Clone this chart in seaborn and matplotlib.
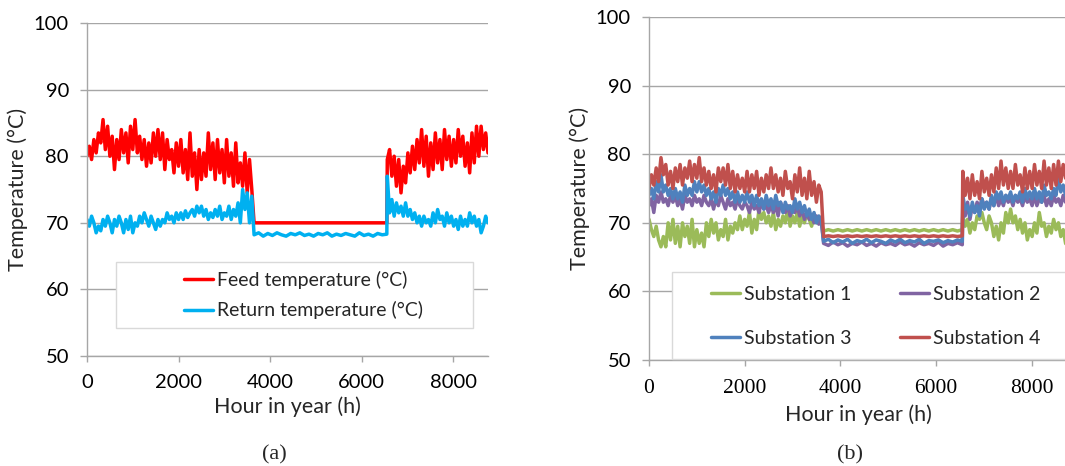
import numpy as np
import pandas as pd
import matplotlib
matplotlib.use("Agg")
import matplotlib.pyplot as plt
from matplotlib.patches import Rectangle
import seaborn as sns

# hour grids: heating season part 1, summer (constant set point), heating season part 2
hours_a = np.arange(0, 3601, 50)
hours_flat = np.arange(3650, 6551, 100)
hours_b = np.arange(6560, 8761, 50)

# ---- panel (a): network feed / return temperature ----
feed_1 = [80, 81.5, 79.5, 82.5, 80.5, 83.5, 82, 85.5, 81, 84.5, 80,
          83, 78, 82.5, 79.5, 84, 80.5, 83.5, 79, 84.5, 81,
          85.5, 80.5, 83, 79.5, 82.5, 78.5, 82, 79, 83.5, 80,
          84, 79.5, 83.5, 78, 82.5, 79.5, 81, 77.5, 82, 78.5,
          82.5, 77.5, 81, 76.5, 83.5, 77, 80.5, 75, 81, 76.5,
          80.5, 77, 83.5, 78, 82, 76.5, 82.5, 77.5, 81, 76,
          82.5, 77, 80.5, 75.5, 82, 76, 79, 75.5, 80.5, 74.5, 79.5, 75]
feed_flat = [70] * 30
feed_2 = [79.5, 81, 77, 80, 75.5, 79.5, 74.5, 78.5, 76, 80.5,
          77.5, 81.5, 78, 82.5, 79, 84, 78.5, 83, 77, 82,
          78, 83.5, 79, 82.5, 78, 84, 79.5, 83, 78.5, 82.5,
          79, 84, 80, 83, 78.5, 82, 77.5, 83.5, 79, 84.5,
          80, 84.5, 81, 83.5, 80.5]

return_1 = [70.5, 69.5, 71, 70, 68.5, 69.5, 68.8, 70.5, 69.5, 71, 70,
            68.5, 70.5, 69.5, 71, 70, 68.5, 70.5, 69, 71, 68.5,
            70, 69.5, 71, 70, 71.5, 70.5, 69.5, 71, 70, 69,
            70.5, 69.5, 70.5, 70, 71.5, 70.5, 71, 70, 71.5, 70.5,
            71.5, 70.5, 71.8, 70.8, 71.5, 72, 71, 72.5, 71.5, 72.5,
            71, 72, 70.5, 71.5, 70.8, 72, 71, 72.5, 70.5, 71.5,
            71, 72.5, 70.5, 72, 71, 73, 70, 75, 72, 74.5, 70, 74]
return_flat = [68.2, 68.5, 68.0, 68.4, 68.1, 68.5, 68.2, 68.0, 68.4, 68.2,
               68.5, 68.1, 68.3, 68.0, 68.4, 68.2, 68.5, 68.0, 68.3, 68.1,
               68.4, 68.2, 68.0, 68.5, 68.1, 68.3, 68.0, 68.4, 68.2, 68.3]
return_2 = [77, 71.5, 73.5, 71, 73, 71.5, 72.5, 71, 73, 71,
            72, 70.5, 71.5, 70, 71, 69.5, 71, 70, 70.5, 69.5,
            71.5, 70, 72, 70.5, 71, 69.5, 71.5, 70, 71, 69.5,
            70.5, 69, 71, 69.5, 70.5, 69.5, 71.5, 70, 71, 69.5,
            70.5, 68.5, 69.5, 71, 70]

# ---- panel (b): return temperature per substation ----
sub1_1 = [70.5, 69, 68, 69.5, 67.5, 66.5, 68, 66.5, 70, 67.5, 70.5,
          67, 69.5, 66.5, 70, 68, 69.5, 67, 70.5, 66.5, 69,
          67, 68.5, 66.5, 70, 68, 70.5, 68.5, 70, 67.5, 69,
          68, 70.5, 67.5, 69.5, 68.5, 70, 69, 71, 69, 70.5,
          69.5, 71.5, 68.5, 70.5, 69, 72, 70.5, 71.5, 70, 71,
          69.5, 71.5, 69, 70.5, 69.5, 71, 70, 72, 69.5, 71,
          70, 71.5, 69.5, 71, 70, 71.5, 70.5, 69.5, 71, 70, 70.5, 70]
sub1_flat = [68.8, 69.0] * 15
sub1_2 = [71, 69.5, 70.5, 68.5, 70, 69, 71, 70.5, 71.5, 70,
          69, 71, 70, 68, 69.5, 67.5, 70, 68.5, 71.5, 70,
          72, 70, 71, 69, 70.5, 68.5, 70, 67.5, 69, 68,
          70, 68.5, 71.5, 69.5, 70, 68, 69.5, 68.5, 70.5, 69,
          70, 68, 69, 67, 66.5]

sub2_1 = [72.5, 73.5, 71.5, 74, 73, 74.5, 73, 73.5, 72.5, 74, 73,
          74, 72.5, 73.5, 72, 74, 73, 73.5, 72.5, 74, 73,
          73.5, 72.5, 74, 73, 72.5, 73.5, 72, 73.5, 72.5, 74,
          73, 72, 73.5, 72.5, 73, 72, 73.5, 72.5, 72, 73,
          72.5, 71.5, 73, 72, 72.5, 71.5, 73, 72, 72.5, 71.5,
          72.5, 71.5, 72.5, 71, 73, 72, 71.5, 72.5, 71, 72,
          71.5, 72.5, 71, 72, 70.5, 71.5, 70.5, 71, 70, 71, 69.8, 70.5]
sub2_flat = [67.0, 66.7, 67.2, 66.8, 67.1, 66.6, 67.0, 66.8, 67.2, 66.7,
             67.0, 66.6, 67.1, 66.8, 67.0, 66.7, 67.2, 66.8, 67.0, 66.6,
             67.1, 66.8, 67.0, 66.7, 67.2, 66.6, 67.0, 66.8, 67.1, 66.8]
sub2_2 = [72, 71, 73, 70.5, 72.5, 71.5, 73, 72, 73.5, 72.5,
          73, 72, 73.5, 72.5, 74, 72.5, 73.5, 72.5, 74, 73,
          73.5, 72.5, 74, 73, 73.5, 72.5, 74, 73, 73.5, 72.5,
          74, 72.5, 73.5, 73, 74, 72.5, 73.5, 72.5, 74, 73,
          73.5, 72.5, 74, 73, 73.5]

sub3_1 = [74, 75, 73.5, 76, 74.5, 77, 74.5, 75.5, 74, 75, 73.5,
          75, 73.5, 74.5, 73, 75.5, 74, 75, 74, 76, 74.5,
          76, 74.5, 75.5, 74, 75, 73.5, 74.5, 73, 75, 74,
          75.5, 74, 75, 73.5, 74.5, 73, 74.5, 73, 74, 73,
          74.5, 73, 74, 72.5, 74, 72.5, 73.5, 72, 74, 72.5,
          73.5, 72, 74, 72.5, 73, 71.5, 73, 72, 72.5, 71.5,
          73.5, 72, 73, 71.5, 72.5, 71, 72, 70.5, 71.5, 70, 71, 70.5]
sub3_flat = [67.3, 67.6, 67.1, 67.5, 67.2, 67.6, 67.0, 67.4, 67.2, 67.6,
             67.1, 67.5, 67.3, 67.0, 67.5, 67.2, 67.6, 67.1, 67.4, 67.2,
             67.6, 67.0, 67.4, 67.3, 67.5, 67.1, 67.4, 67.2, 67.5, 67.3]
sub3_2 = [74, 72, 72.5, 71, 73, 71.5, 72.5, 71, 73.5, 72,
          73, 72, 74, 72.5, 74.5, 73.5, 74.5, 73, 74, 73.5,
          74.5, 73, 74, 73.5, 74.5, 73, 75, 73.5, 74.5, 73.5,
          75, 73.5, 74.5, 73, 75.5, 74, 74.5, 73.5, 75, 74,
          76.5, 74.5, 75.5, 74, 75]

sub4_1 = [75, 77, 75.5, 78, 76, 79.5, 77, 78.5, 75.5, 77.5, 75,
          78, 76, 78.5, 75.5, 78, 76.5, 79, 76, 78.5, 76.5,
          79.5, 76, 78, 75.5, 77.5, 75, 77, 74.5, 78, 76,
          78, 75.5, 78.5, 75, 77.5, 74.5, 77, 75, 76.5, 74.5,
          77.5, 74.5, 77, 75, 77.5, 74, 76.5, 74.5, 77, 75,
          78, 75, 77, 74.5, 76.5, 74, 77.5, 75, 76, 73.5,
          77, 74.5, 78, 74, 76.5, 73.5, 77.5, 74, 76, 73, 75.5, 74.5]
sub4_flat = [68.0, 68.1] * 15
sub4_2 = [77.5, 74, 76.5, 73.5, 77, 74, 76, 73.5, 77.5, 74.5,
          76.5, 74, 77, 74.5, 78, 75, 79, 75.5, 78, 75,
          77.5, 75, 78.5, 75.5, 77, 74.5, 78, 75, 77.5, 75,
          78.5, 75.5, 77.5, 75, 79, 75.5, 78, 75, 78.5, 75.5,
          79, 76, 78.5, 76.5, 77.5]

labels_a = ['Feed temperature (°C)', 'Return temperature (°C)']
labels_b = ['Substation 1', 'Substation 2', 'Substation 3', 'Substation 4']
colors_a = ['#FF0000', '#00B0F0']
colors_b = ['#9BBB59', '#8064A2', '#4F81BD', '#C0504D']


def series(name, seg1, flat, seg2):
    h = np.concatenate([hours_a, hours_flat, hours_b])
    v = np.concatenate([seg1, flat, seg2])
    return pd.DataFrame({'hour': h, 'temp': v, 'series': name})


df_a = pd.concat([
    series(labels_a[0], feed_1, feed_flat, feed_2),
    series(labels_a[1], return_1, return_flat, return_2),
])
df_b = pd.concat([
    series(labels_b[0], sub1_1, sub1_flat, sub1_2),
    series(labels_b[1], sub2_1, sub2_flat, sub2_2),
    series(labels_b[2], sub3_1, sub3_flat, sub3_2),
    series(labels_b[3], sub4_1, sub4_flat, sub4_2),
])

sns.set_theme(style='white')
plt.rcParams['font.family'] = ['Lato', 'DejaVu Sans']
grey = '#A6A6A6'

fig = plt.figure(figsize=(10.65, 4.66), dpi=100)
ax_a = fig.add_axes([0.0817, 0.236, 0.3765, 0.7146])
ax_b = fig.add_axes([0.6094, 0.2275, 0.3934, 0.736])


def style_axis(ax, xpad):
    ax.set_xlim(0, 8760)
    ax.set_ylim(50, 100)
    ax.set_yticks([50, 60, 70, 80, 90, 100])
    ax.set_xticks([0, 2000, 4000, 6000, 8000])
    ax.yaxis.grid(True, color=grey, lw=1.0)
    ax.set_axisbelow(True)
    for s in ['top', 'right']:
        ax.spines[s].set_visible(False)
    for s in ['left', 'bottom']:
        ax.spines[s].set_color(grey)
        ax.spines[s].set_linewidth(1.0)
    ax.tick_params(axis='y', left=True, length=5, width=1, color=grey,
                   labelsize=14.5, pad=8, labelcolor='black')
    ax.tick_params(axis='x', bottom=True, length=4, width=1, color=grey,
                   labelsize=14.5, pad=xpad, labelcolor='black')
    ax.set_xlabel('Hour in year (h)', fontsize=15.5, labelpad=4)
    ax.set_ylabel('Temperature (°C)', fontsize=15.5, labelpad=4)


sns.lineplot(data=df_a, x='hour', y='temp', hue='series', palette=colors_a,
             estimator=None, sort=False, lw=2.5, ax=ax_a)
style_axis(ax_a, 9)
ax_a.add_patch(Rectangle((0.072, 0.084), 0.891, 0.198, transform=ax_a.transAxes,
                         facecolor='white', edgecolor='#D9D9D9', lw=1, zorder=4))
h, l = ax_a.get_legend_handles_labels()
ax_a.legend(h, l, loc='center left', bbox_to_anchor=(0.218, 0.183), frameon=False,
            fontsize=14, handlelength=1.5, handletextpad=0.2, labelspacing=0.65,
            borderpad=0).set_zorder(5)

sns.lineplot(data=df_b, x='hour', y='temp', hue='series', palette=colors_b,
             estimator=None, sort=False, lw=2.5, ax=ax_b)
style_axis(ax_b, 10)
ax_b.add_patch(Rectangle((0.055, 0.003), 1.0, 0.254, transform=ax_b.transAxes,
                         facecolor='white', edgecolor='#D9D9D9', lw=1, zorder=4,
                         clip_on=False))
h, l = ax_b.get_legend_handles_labels()
order = [0, 2, 1, 3]  # row-wise: 1 2 / 3 4
ax_b.legend([h[i] for i in order], [l[i] for i in order], loc='center left',
            bbox_to_anchor=(0.124, 0.127), frameon=False, ncol=2,
            fontsize=14, handlelength=1.5, handletextpad=0.2, labelspacing=1.35,
            columnspacing=2.5, borderpad=0).set_zorder(5)
for t in ax_b.get_xticklabels():
    t.set_fontfamily('Liberation Serif')
    t.set_fontsize(15.5)

fig.text(0.258, 0.015, '(a)', family='Liberation Serif', fontsize=16, ha='center')
fig.text(0.798, 0.015, '(b)', family='Liberation Serif', fontsize=16, ha='center')

fig.savefig('out.png', dpi=100)
